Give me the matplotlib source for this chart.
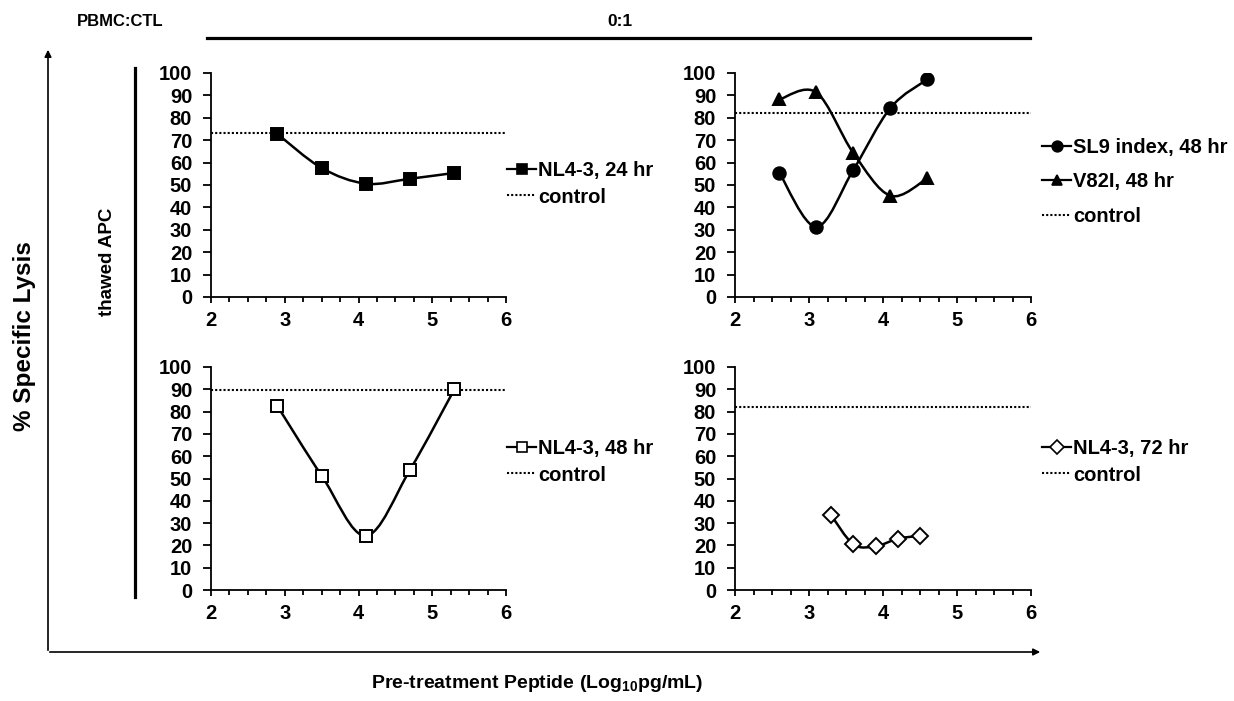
import matplotlib
matplotlib.use('Agg')
import matplotlib.pyplot as plt
from matplotlib.path import Path
from matplotlib.patches import PathPatch, FancyArrowPatch
from matplotlib.lines import Line2D
from matplotlib.ticker import MultipleLocator

plt.rcParams['font.family'] = ['Liberation Sans', 'DejaVu Sans']
plt.rcParams['font.weight'] = 'bold'
plt.rcParams['mathtext.fontset'] = 'custom'
plt.rcParams['mathtext.rm'] = 'Liberation Sans:bold'
plt.rcParams['mathtext.bf'] = 'Liberation Sans:bold'

# ---- data ----
nl43_24_x = [2.9, 3.5, 4.1, 4.7, 5.3]
nl43_24_y = [72.8, 57.6, 50.6, 52.8, 55.4]
control_24 = 73.3

sl9_48_x = [2.6, 3.1, 3.6, 4.1, 4.6]
sl9_48_y = [55.4, 31.3, 56.8, 84.4, 97.2]
v82i_48_x = [2.6, 3.1, 3.6, 4.1, 4.6]
v82i_48_y = [88.2, 91.3, 64.2, 45.2, 53.0]
control_48a = 82.0

nl43_48_x = [2.9, 3.5, 4.1, 4.7, 5.3]
nl43_48_y = [82.5, 51.3, 24.3, 54.0, 90.0]
control_48b = 89.5

nl43_72_x = [3.3, 3.6, 3.9, 4.2, 4.5]
nl43_72_y = [33.5, 20.5, 19.6, 23.0, 24.3]
control_72 = 82.0

W, H = 1234, 701
FS = 14.5  # tick / legend font size


def fx(px):
    return px / W


def fy(py):
    return 1 - py / H


def smooth_path(x, y):
    # Excel-style smoothed line: cubic Bezier through the points
    pts = list(zip(x, y))
    verts = [pts[0]]
    codes = [Path.MOVETO]
    n = len(pts)
    for i in range(n - 1):
        p0 = pts[i - 1] if i > 0 else pts[i]
        p1 = pts[i]
        p2 = pts[i + 1]
        p3 = pts[i + 2] if i + 2 < n else pts[i + 1]
        c1 = (p1[0] + (p2[0] - p0[0]) / 6, p1[1] + (p2[1] - p0[1]) / 6)
        c2 = (p2[0] - (p3[0] - p1[0]) / 6, p2[1] - (p3[1] - p1[1]) / 6)
        verts += [c1, c2, p2]
        codes += [Path.CURVE4] * 3
    return Path(verts, codes)


def make_axes(left, top, right, bottom):
    ax = fig.add_axes([fx(left), fy(bottom), fx(right) - fx(left), fy(top) - fy(bottom)])
    ax.set_xlim(2, 6)
    ax.set_ylim(0, 100)
    ax.xaxis.set_major_locator(MultipleLocator(1))
    ax.xaxis.set_minor_locator(MultipleLocator(0.25))
    ax.yaxis.set_major_locator(MultipleLocator(10))
    for s in ['top', 'right']:
        ax.spines[s].set_visible(False)
    for s in ['left', 'bottom']:
        ax.spines[s].set_linewidth(1.3)
    ax.tick_params(which='major', direction='out', width=1.3, labelsize=FS)
    ax.tick_params(axis='x', which='major', length=4, pad=6)
    ax.tick_params(axis='y', which='major', length=5.5, pad=8)
    ax.tick_params(which='minor', direction='out', length=3.5, width=1.3)
    ax.patch.set_alpha(0)
    return ax


def draw_series(ax, x, y, marker, mfc, ms):
    ax.add_patch(PathPatch(smooth_path(x, y), facecolor='none', edgecolor='black', lw=1.8, zorder=3))
    ax.plot(x, y, linestyle='none', marker=marker, ms=ms, mfc=mfc, mec='black', mew=1.4, zorder=4)
    return Line2D([], [], color='black', lw=1.6, marker=marker, ms=ms * 0.85, mfc=mfc, mec='black', mew=1.2)


def control_line(ax, val):
    ax.axhline(val, color='black', lw=1.5, linestyle=(0, (1, 1)), zorder=2)
    return Line2D([], [], color='black', lw=1.5, linestyle=(0, (1, 1)))


def add_legend(handles, labels, px, py, spacing):
    fig.legend(handles, labels, loc='center left', bbox_to_anchor=(fx(px), fy(py)),
               frameon=False, fontsize=FS, handlelength=1.45, handletextpad=0.1,
               labelspacing=spacing, borderaxespad=0, borderpad=0)


fig = plt.figure(figsize=(W / 100, H / 100), dpi=100)

# top left
ax1 = make_axes(211, 73, 506, 297)
h1 = draw_series(ax1, nl43_24_x, nl43_24_y, 's', 'black', 8)
c1 = control_line(ax1, control_24)
add_legend([h1, c1], ['NL4-3, 24 hr', 'control'], 507, 184, 0.35)

# top right
ax2 = make_axes(735, 73, 1031, 297)
h2a = draw_series(ax2, sl9_48_x, sl9_48_y, 'o', 'black', 9)
h2b = draw_series(ax2, v82i_48_x, v82i_48_y, '^', 'black', 9)
c2 = control_line(ax2, control_48a)
add_legend([h2a, h2b, c2], ['SL9 index, 48 hr', 'V82I, 48 hr', 'control'], 1042, 182, 0.75)

# bottom left
ax3 = make_axes(211, 367, 506, 590)
h3 = draw_series(ax3, nl43_48_x, nl43_48_y, 's', 'white', 9)
c3 = control_line(ax3, control_48b)
add_legend([h3, c3], ['NL4-3, 48 hr', 'control'], 507, 462, 0.35)

# bottom right
ax4 = make_axes(735, 367, 1031, 590)
h4 = draw_series(ax4, nl43_72_x, nl43_72_y, 'D', 'white', 8)
c4 = control_line(ax4, control_72)
add_legend([h4, c4], ['NL4-3, 72 hr', 'control'], 1042, 462, 0.35)

# header
fig.text(fx(120), fy(22), 'PBMC:CTL', ha='center', va='center', fontsize=12)
fig.text(fx(620), fy(22), '0:1', ha='center', va='center', fontsize=12.5)
fig.add_artist(Line2D([fx(207), fx(1030)], [fy(38), fy(38)], color='black', lw=2.3))

# row label with bar
fig.text(fx(107), fy(262), 'thawed APC', rotation=90, ha='center', va='center', fontsize=13.5)
fig.add_artist(Line2D([fx(135), fx(135)], [fy(68), fy(597)], color='black', lw=2.3))

# outer arrows
fig.add_artist(FancyArrowPatch((fx(48), fy(653)), (fx(48), fy(47)), transform=fig.transFigure,
                               arrowstyle='-|>', mutation_scale=10, color='black', lw=1.2))
fig.add_artist(FancyArrowPatch((fx(47), fy(652)), (fx(1043), fy(652)), transform=fig.transFigure,
                               arrowstyle='-|>', mutation_scale=10, color='black', lw=1.2))

fig.text(fx(24), fy(336), '% Specific Lysis', rotation=90, ha='center', va='center', fontsize=17.5)
fig.text(fx(537), fy(683), r'Pre-treatment Peptide (Log$_{10}$pg/mL)', ha='center', va='center', fontsize=14)

fig.savefig('out.png', dpi=100)
